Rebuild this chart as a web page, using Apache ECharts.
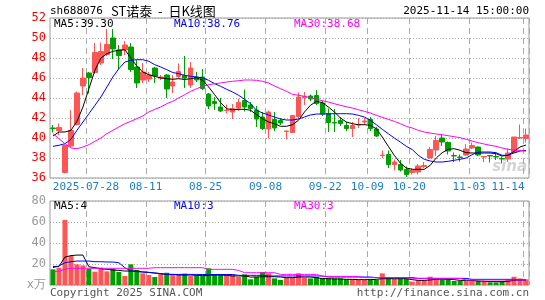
<!DOCTYPE html>
<html lang="zh-CN">
<head>
<meta charset="UTF-8">
<title>ST诺泰 日K线图</title>
<style>
  html, body { margin: 0; padding: 0; background: #fff; }
  #main { width: 545px; height: 300px; }
</style>
</head>
<body>
<div id="main"></div>
<script src="https://cdn.jsdelivr.net/npm/echarts@6/dist/echarts.min.js"></script>
<script>
// trading days shown on the chart
const dates = [
  '2025-07-18', '2025-07-21', '2025-07-22', '2025-07-23', '2025-07-24', '2025-07-25',
  '2025-07-28', '2025-07-29', '2025-07-30', '2025-07-31', '2025-08-01',
  '2025-08-04', '2025-08-05', '2025-08-06', '2025-08-07', '2025-08-08',
  '2025-08-11', '2025-08-12', '2025-08-13', '2025-08-14', '2025-08-15',
  '2025-08-18', '2025-08-19', '2025-08-20', '2025-08-21', '2025-08-22',
  '2025-08-25', '2025-08-26', '2025-08-27', '2025-08-28', '2025-08-29',
  '2025-09-01', '2025-09-02', '2025-09-03', '2025-09-04', '2025-09-05',
  '2025-09-08', '2025-09-09', '2025-09-10', '2025-09-11', '2025-09-12',
  '2025-09-15', '2025-09-16', '2025-09-17', '2025-09-18', '2025-09-19',
  '2025-09-22', '2025-09-23', '2025-09-24', '2025-09-25', '2025-09-26',
  '2025-09-29', '2025-09-30', '2025-10-09', '2025-10-10',
  '2025-10-13', '2025-10-14', '2025-10-15', '2025-10-16', '2025-10-17',
  '2025-10-20', '2025-10-21', '2025-10-22', '2025-10-23', '2025-10-24',
  '2025-10-27', '2025-10-28', '2025-10-29', '2025-10-30', '2025-10-31',
  '2025-11-03', '2025-11-04', '2025-11-05', '2025-11-06', '2025-11-07',
  '2025-11-10', '2025-11-11', '2025-11-12', '2025-11-13', '2025-11-14'
];
const tickDates = ['2025-07-28', '2025-08-11', '2025-08-25', '2025-09-08', '2025-09-22',
  '2025-10-09', '2025-10-20', '2025-11-03', '2025-11-14'];

const opens = [41.0, 40.75, 36.55, 39.2, 41.35, 45.2, 46.5, 46.55, 47.5, 48.35,
  50.0, 48.8, 48.8, 49.1, 47.1, 45.8, 45.9, 47.0, 46.0, 46.3,
  45.2, 46.15, 46.25, 45.3, 46.1, 46.1, 44.4, 43.65, 43.1, 42.75,
  42.6, 43.0, 43.75, 43.3, 42.8, 42.1, 40.9, 41.85, 41.75, 40.65,
  40.55, 42.15, 44.05, 44.2, 44.25, 43.5, 42.45, 41.55, 41.75, 41.25,
  40.95, 41.3, 41.6, 41.85, 40.9, 38.25, 38.35, 37.35, 37.35, 36.85,
  36.55, 36.6, 37.15, 38.0, 38.8, 40.0, 39.55, 38.25, 38.1, 38.3,
  39.0, 39.1, 38.1, 38.25, 38.15, 37.95, 37.9, 38.55, 40.0, 39.95];
const closes = [40.95, 41.05, 39.25, 40.75, 44.5, 46.0, 46.05, 48.55, 48.65, 49.35,
  48.9, 48.25, 49.3, 46.85, 45.5, 46.6, 46.3, 46.2, 46.1, 44.9,
  45.6, 46.65, 46.0, 47.0, 45.8, 44.95, 43.2, 43.45, 42.7, 42.8,
  42.95, 43.55, 43.1, 42.95, 41.9, 40.95, 42.6, 41.0, 41.5, 40.7,
  42.25, 44.1, 44.15, 43.9, 43.45, 42.4, 41.55, 41.5, 41.45, 40.95,
  41.25, 41.35, 41.7, 40.95, 40.2, 38.3, 37.35, 37.6, 36.8, 36.35,
  36.75, 37.2, 37.25, 38.85, 39.75, 39.6, 38.7, 38.2, 38.05, 38.9,
  39.25, 38.3, 38.15, 38.2, 38.1, 37.9, 38.5, 40.1, 40.05, 40.3];
const lows = [40.55, 40.3, 36.45, 39.1, 41.25, 44.3, 44.45, 46.4, 47.3, 48.2,
  47.9, 46.9, 48.3, 46.6, 45.0, 45.5, 45.6, 45.5, 45.8, 44.0,
  44.5, 45.95, 45.0, 45.0, 45.6, 44.8, 42.9, 42.8, 42.6, 42.45,
  41.9, 42.7, 42.65, 42.6, 41.1, 40.8, 39.95, 40.7, 41.3, 39.85,
  40.5, 41.9, 43.3, 43.7, 43.3, 42.2, 40.6, 40.6, 41.2, 40.7,
  40.1, 41.0, 41.3, 40.7, 40.1, 38.0, 37.0, 36.75, 36.65, 36.1,
  36.35, 36.35, 37.0, 37.95, 38.2, 39.2, 38.35, 37.6, 37.65, 38.2,
  38.9, 38.2, 37.6, 37.55, 37.8, 37.45, 37.6, 38.5, 39.9, 39.55];
const highs = [41.3, 41.45, 39.35, 42.8, 44.65, 47.0, 46.6, 49.5, 49.55, 50.9,
  50.9, 49.3, 49.7, 49.5, 47.8, 47.5, 46.6, 47.1, 46.3, 46.4,
  46.3, 47.45, 48.2, 47.6, 46.6, 46.9, 44.5, 44.1, 44.0, 43.35,
  43.4, 43.95, 44.85, 43.6, 43.2, 42.6, 42.75, 42.6, 42.0, 40.75,
  42.3, 44.55, 44.6, 44.35, 44.8, 43.75, 42.95, 42.9, 42.1, 41.6,
  41.6, 42.0, 42.0, 42.1, 41.1, 38.75, 38.75, 37.85, 37.8, 37.15,
  37.0, 37.4, 37.6, 39.1, 40.2, 40.3, 39.65, 38.55, 38.35, 39.4,
  39.55, 39.15, 38.2, 38.3, 38.4, 38.15, 38.95, 40.1, 41.35, 40.95];

const ma5 = [40.2, 40.6, 40.6, 40.77, 41.67, 43.1, 44.93, 46.77, 48.0, 48.43,
  48.67, 48.77, 48.83, 48.0, 47.2, 46.6, 46.33, 46.17, 46.0, 45.93,
  45.87, 45.93, 45.85, 45.93, 46.03, 45.77, 45.1, 44.33, 43.53, 42.93,
  42.83, 42.87, 42.87, 42.77, 42.33, 41.93, 41.6, 41.43, 41.17, 41.17,
  41.33, 41.77, 42.6, 43.27, 43.67, 43.53, 43.1, 42.6, 42.0, 41.6,
  41.43, 41.33, 41.33, 41.27, 40.93, 40.1, 39.17, 38.27, 37.5, 37.0,
  36.87, 36.87, 36.87, 37.27, 38.0, 38.53, 38.87, 38.93, 38.77, 38.53,
  38.5, 38.5, 38.5, 38.5, 38.43, 38.2, 38.27, 38.67, 39.1, 39.30];
const ma10 = [39.17, 39.27, 39.43, 39.87, 40.77, 41.6, 42.43, 43.27, 44.1, 45.1,
  46.1, 46.93, 47.6, 47.77, 47.83, 47.83, 47.67, 47.33, 47.1, 46.83,
  46.55, 46.43, 46.27, 46.17, 46.1, 46.0, 45.77, 45.43, 45.17, 44.87,
  44.6, 44.27, 43.87, 43.43, 42.77, 42.5, 42.3, 42.1, 41.9, 41.8,
  41.8, 41.9, 42.1, 42.3, 42.4, 42.4, 42.4, 42.43, 42.43, 42.43,
  42.4, 42.27, 42.1, 41.77, 41.33, 40.87, 40.43, 40.0, 39.6, 39.17,
  38.85, 38.27, 37.87, 37.7, 37.6, 37.6, 37.67, 37.77, 37.87, 38.0,
  38.33, 38.6, 38.6, 38.6, 38.53, 38.27, 38.27, 38.5, 38.7, 38.76];
const ma30 = [40.43, 39.93, 39.43, 39.0, 38.93, 39.1, 39.33, 39.67, 40.0, 40.43,
  40.77, 41.1, 41.43, 41.67, 41.93, 42.2, 42.6, 42.87, 43.1, 43.43,
  43.67, 44.0, 44.33, 44.67, 44.93, 45.17, 45.33, 45.43, 45.5, 45.6,
  45.67, 45.73, 45.8, 45.8, 45.77, 45.67, 45.5, 45.2, 44.93, 44.67,
  44.37, 44.27, 44.17, 44.03, 43.87, 43.73, 43.6, 43.43, 43.27, 43.13,
  43.0, 42.83, 42.67, 42.5, 42.27, 42.07, 41.87, 41.67, 41.43, 41.17,
  41.0, 40.77, 40.6, 40.5, 40.4, 40.33, 40.23, 40.13, 40.03, 39.87,
  39.7, 39.53, 39.4, 39.27, 39.17, 39.0, 38.87, 38.8, 38.77, 38.68];

// volume, 万手
const vols = [14.9, 16.5, 62, 27.6, 19.7, 18.7, 15.5, 12.7, 16.5, 13.0,
  15.5, 12.4, 8.6, 19.7, 14.3, 11.1, 9.5, 7.6, 10.8, 11.7,
  10.1, 10.1, 10.8, 8.6, 9.2, 9.2, 15.9, 10.1, 10.1, 10.1,
  10.1, 7.6, 10.1, 5.4, 7.9, 12.4, 11.1, 6.3, 4.8, 7.0,
  7.0, 11.1, 7.0, 6.3, 7.6, 6.3, 6.3, 6.3, 6.3, 5.4,
  5.4, 4.8, 4.8, 5.4, 4.8, 11.1, 7.0, 6.0, 6.3, 6.3,
  3.2, 4.4, 4.4, 7.9, 6.3, 5.4, 5.4, 3.8, 3.8, 3.8,
  3.8, 3.8, 3.2, 2.5, 2.5, 3.2, 5.4, 7.9, 6.3, 5.4];
const volMa5 = [17.7, 17.7, 26.6, 28.0, 28.5, 28.5, 17.4, 16.5, 15.5, 14.9,
  14.3, 13.9, 13.3, 13.3, 13.3, 12.4, 12.0, 11.4, 10.8, 10.1,
  10.1, 9.5, 9.5, 9.5, 9.2, 9.2, 9.2, 9.5, 9.5, 9.2,
  8.6, 8.6, 8.6, 7.6, 7.6, 7.9, 7.9, 7.9, 7.6, 7.0,
  7.0, 7.6, 7.6, 7.6, 7.0, 6.0, 6.0, 5.7, 5.7, 5.4,
  5.4, 5.1, 5.1, 5.1, 5.4, 6.0, 6.0, 6.0, 6.0, 6.0,
  5.1, 4.4, 4.4, 4.8, 5.4, 5.7, 5.4, 5.1, 4.4, 4.4,
  4.4, 3.8, 3.5, 3.2, 3.2, 3.2, 3.5, 4.4, 4.8, 4.8];
const volMa10 = [16.5, 18.1, 21.2, 22.2, 22.8, 22.8, 22.8, 22.2, 22.2, 21.9,
  21.9, 21.2, 16.5, 13.3, 12.7, 12.4, 12.0, 11.4, 10.8, 10.1,
  10.1, 10.1, 10.1, 10.1, 10.1, 10.0, 10.0, 10.0, 10.0, 10.0,
  10.0, 9.2, 9.2, 9.2, 9.2, 9.2, 8.6, 8.6, 8.6, 8.6,
  8.6, 8.6, 8.6, 8.6, 8.6, 8.6, 7.6, 7.6, 7.6, 7.6,
  7.6, 7.6, 7.6, 7.6, 7.0, 7.0, 7.0, 7.0, 7.0, 7.0,
  7.0, 6.3, 6.3, 6.3, 6.3, 6.3, 6.3, 6.3, 6.3, 6.3,
  5.4, 5.4, 5.4, 5.4, 5.4, 5.4, 5.4, 5.4, 4.8, 4.8];
const volMa30 = [12.4, 13.3, 14.9, 15.9, 15.9, 15.9, 15.9, 15.9, 15.9, 15.9,
  15.9, 15.9, 15.9, 15.9, 15.9, 15.9, 15.9, 16.5, 16.5, 16.5,
  16.5, 16.5, 16.5, 16.5, 16.5, 16.5, 14.9, 14.9, 14.9, 14.9,
  14.9, 13.9, 11.7, 11.7, 11.7, 11.7, 11.7, 11.7, 10.1, 10.1,
  10.1, 10.1, 10.1, 10.1, 10.1, 8.2, 8.2, 8.2, 8.2, 8.2,
  8.2, 8.2, 7.0, 7.0, 7.0, 7.0, 7.0, 7.0, 7.0, 7.0,
  6.3, 6.3, 6.3, 6.3, 6.3, 6.3, 6.3, 6.3, 6.3, 4.8,
  4.8, 4.8, 4.8, 4.8, 4.8, 4.8, 4.8, 4.8, 4.8, 4.8];

const maLegend = ['MA5:39.30', 'MA10:38.76', 'MA30:38.68'];
const volLegend = ['MA5:4', 'MA10:3', 'MA30:3'];

const UP = '#ff5555';
const DOWN = '#009f00';
const MONO = '"DejaVu Sans Mono", "Liberation Mono", monospace';
const maColors = ['#000000', '#0000ff', '#ff00ff'];

const kData = dates.map((d, i) => [opens[i], closes[i], lows[i], highs[i]]);
const volData = vols.map((v, i) => ({
  value: v,
  itemStyle: { color: closes[i] >= opens[i] ? UP : DOWN }
}));
const tickIdx = tickDates.map(d => dates.indexOf(d));
const isTick = i => tickIdx.indexOf(i) >= 0;

const myChart = echarts.init(document.getElementById('main'));

function lineSeries(data, color, axis) {
  return {
    type: 'line', data: data, xAxisIndex: axis, yAxisIndex: axis,
    showSymbol: false, silent: true, z: 3,
    lineStyle: { color: color, width: 1 }
  };
}

function text(str, x, y, color, align, font) {
  return {
    type: 'text', x: x, y: y, silent: true,
    style: {
      text: str, fill: color, font: font || ('11px ' + MONO),
      align: align || 'left', textAlign: align || 'left',
      verticalAlign: 'middle', textVerticalAlign: 'middle'
    }
  };
}

const vSplit = {
  show: true,
  interval: (i) => isTick(i),
  lineStyle: { color: '#aaaaaa', type: [6, 4], width: 1 }
};
const hSplit = { show: true, lineStyle: { color: '#aaaaaa', type: [1, 2], width: 1 } };

const option = {
  animation: false,
  backgroundColor: '#fff',
  grid: [
    { left: 50, right: 16, top: 18, height: 160, show: true, borderColor: '#999', borderWidth: 1 },
    { left: 50, right: 16, top: 201, height: 84, show: true, borderColor: '#999', borderWidth: 1 }
  ],
  xAxis: [
    {
      type: 'category', gridIndex: 0, data: dates, boundaryGap: true,
      axisLine: { show: false }, axisTick: { show: false },
      splitLine: vSplit,
      axisLabel: {
        interval: (i) => isTick(i),
        color: '#1a7fc8', fontFamily: MONO, fontSize: 11, margin: 4,
        padding: [0, 6, 0, 0],
        formatter: (v, i) => {
          const t = v === tickDates[0] ? v : v.slice(5);
          return i === dates.length - 1 ? '{end|' + t + '}' : t;
        },
        rich: { end: { color: '#1a7fc8', fontFamily: MONO, fontSize: 11, padding: [0, 30, 0, 0] } }
      }
    },
    {
      type: 'category', gridIndex: 1, data: dates, boundaryGap: true,
      axisLine: { show: false }, axisTick: { show: false },
      axisLabel: { show: false },
      splitLine: vSplit
    }
  ],
  yAxis: [
    {
      type: 'value', gridIndex: 0, min: 36, max: 52, interval: 2,
      axisLine: { show: false }, axisTick: { show: false },
      axisLabel: { color: '#ff0000', fontFamily: MONO, fontSize: 12, margin: 4 },
      splitLine: hSplit
    },
    {
      type: 'value', gridIndex: 1, min: 0, max: 80, interval: 20,
      axisLine: { show: false }, axisTick: { show: false },
      axisLabel: {
        color: '#999999', fontFamily: MONO, fontSize: 12, margin: 4,
        formatter: v => v === 0 ? 'x万' : v
      },
      splitLine: hSplit
    }
  ],
  graphic: [
    text('sh688076', 50, 11, '#000'),
    text('ST诺泰  -  日K线图', 111, 11, '#000', 'left', '13px "Noto Sans CJK SC", sans-serif'),
    text('2025-11-14 15:00:00', 529, 11, '#000', 'right'),
    text(maLegend[0], 54, 24, maColors[0]),
    text(maLegend[1], 174, 24, maColors[1]),
    text(maLegend[2], 294, 24, maColors[2]),
    text(volLegend[0], 54, 206, maColors[0]),
    text(volLegend[1], 174, 206, maColors[1]),
    text(volLegend[2], 294, 206, maColors[2]),
    text('Copyright 2025 SINA.COM', 50, 293, '#555'),
    text('http://finance.sina.com.cn', 529, 293, '#555', 'right'),
    text('sina', 527, 167, 'rgba(170,170,170,0.5)', 'right', 'italic bold 15px "DejaVu Sans", sans-serif')
  ],
  series: [
    {
      type: 'candlestick', data: kData, xAxisIndex: 0, yAxisIndex: 0,
      barWidth: 5, silent: true,
      itemStyle: { color: UP, color0: DOWN, borderColor: UP, borderColor0: DOWN, borderWidth: 1 }
    },
    lineSeries(ma5, maColors[0], 0),
    lineSeries(ma10, maColors[1], 0),
    lineSeries(ma30, maColors[2], 0),
    {
      type: 'bar', data: volData, xAxisIndex: 1, yAxisIndex: 1,
      barWidth: 5, silent: true
    },
    lineSeries(volMa5, maColors[0], 1),
    lineSeries(volMa10, maColors[1], 1),
    lineSeries(volMa30, maColors[2], 1)
  ]
};

myChart.setOption(option);
</script>
</body>
</html>
